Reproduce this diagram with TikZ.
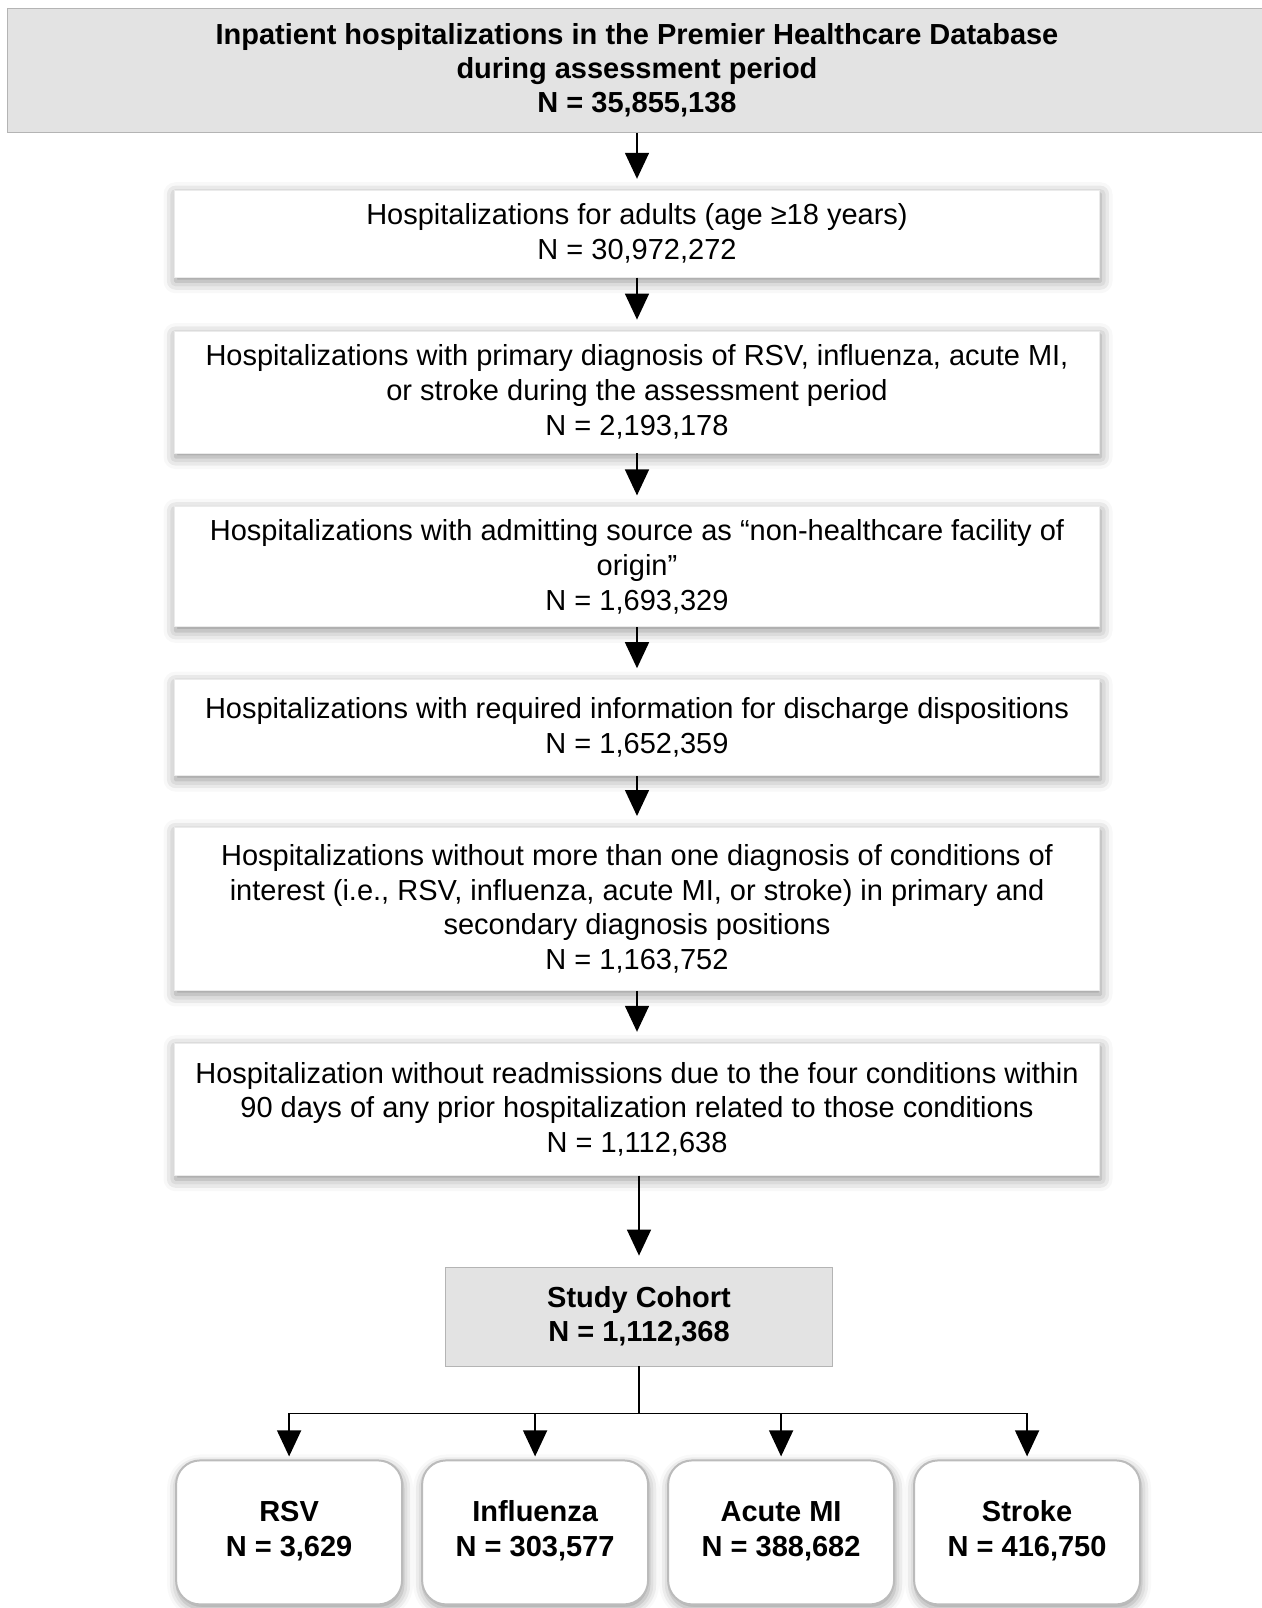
\documentclass[tikz,border=0pt]{standalone}
\usepackage{fontspec}
\setmainfont{Liberation Sans}
\usetikzlibrary{arrows.meta,positioning,shadows.blur}
\definecolor{headfill}{HTML}{E3E3E3}
\definecolor{headline}{HTML}{B4B4B4}
\definecolor{armline}{HTML}{BBBBBB}
\tikzset{
	headbox/.style={rectangle, draw=headline, fill=headfill, align=center,
		font=\fontsize{14.5}{17}\selectfont\bfseries, inner sep=0pt},
	stepbox/.style={rectangle, draw=black!8, fill=white, minimum width=462.5pt, align=center,
		font=\fontsize{14.5}{17.4}\selectfont, inner sep=0pt,
		blur shadow={shadow xshift=0.5pt, shadow yshift=-2pt, shadow blur radius=6pt, shadow opacity=45}},
	armbox/.style={rectangle, draw=armline, line width=1pt, fill=white, rounded corners=12pt,
		minimum width=113pt, minimum height=72pt, align=center,
		font=\fontsize{14.5}{17.5}\selectfont\bfseries, inner sep=0pt,
		blur shadow={shadow xshift=0.5pt, shadow yshift=-2pt, shadow blur radius=5pt, shadow opacity=40}},
	flowarr/.style={-{Triangle[width=12pt,length=13pt]}, line width=0.75pt}
}
\begin{document}
\begin{tikzpicture}
	\useasboundingbox (0,0) rectangle (631pt,-804pt);
	\node[headbox, anchor=north, minimum width=630pt, minimum height=62pt] (source) at (318.5pt,-4pt)
		{Inpatient hospitalizations in the Premier Healthcare Database\\during assessment period\\N = 35,855,138};
	\node[stepbox, below=28.5pt of source, minimum height=43.5pt] (adults)
		{Hospitalizations for adults (age ≥18 years)\\N = 30,972,272};
	\node[stepbox, below=26.5pt of adults, minimum height=61pt] (diag)
		{Hospitalizations with primary diagnosis of RSV, influenza, acute MI,\\or stroke during the assessment period\\N = 2,193,178};
	\node[stepbox, below=26.5pt of diag, minimum height=60pt] (admit)
		{Hospitalizations with admitting source as “non-healthcare facility of\\origin”\\N = 1,693,329};
	\node[stepbox, below=26pt of admit, minimum height=48pt] (dispo)
		{Hospitalizations with required information for discharge dispositions\\N = 1,652,359};
	\node[stepbox, below=25.5pt of dispo, minimum height=81.5pt] (single)
		{Hospitalizations without more than one diagnosis of conditions of\\interest (i.e., RSV, influenza, acute MI, or stroke) in primary and\\secondary diagnosis positions\\N = 1,163,752};
	\node[stepbox, below=26pt of single, minimum height=66pt] (readmit)
		{Hospitalization without readmissions due to the four conditions within\\90 days of any prior hospitalization related to those conditions\\N = 1,112,638};
	\node[headbox, below=45.5pt of readmit, xshift=1pt, minimum width=193.5pt, minimum height=49.5pt] (cohort)
		{Study Cohort\\N = 1,112,368};
	% outcome groups
	\coordinate (armsleft) at (cohort.south -| readmit.west);
	\node[armbox, below right=46.5pt and 0.5pt of armsleft] (rsv) {\strut RSV\\N = 3,629\strut};
	\node[armbox, right=9pt of rsv] (flu) {\strut Influenza\\N = 303,577\strut};
	\node[armbox, right=9pt of flu] (ami) {\strut Acute MI\\N = 388,682\strut};
	\node[armbox, right=9pt of ami] (stroke) {\strut Stroke\\N = 416,750\strut};
	\draw[flowarr, shorten >=5.5pt] (source) -- (adults);
	\draw[flowarr, shorten >=5.5pt] (adults) -- (diag);
	\draw[flowarr, shorten >=5.5pt] (diag) -- (admit);
	\draw[flowarr, shorten >=5.5pt] (admit) -- (dispo);
	\draw[flowarr, shorten >=5.5pt] (dispo) -- (single);
	\draw[flowarr, shorten >=5.5pt] (single) -- (readmit);
	\draw[flowarr, shorten >=5.5pt] (readmit.south -| cohort.north) -- (cohort.north);
	\coordinate[below=23.5pt of cohort.south] (bus);
	\draw[line width=0.75pt] (cohort.south) -- (bus);
	\draw[line width=0.75pt] (bus -| rsv.north) -- (bus -| stroke.north);
	\draw[flowarr, shorten >=1.5pt] (bus -| rsv.north) -- (rsv.north);
	\draw[flowarr, shorten >=1.5pt] (bus -| flu.north) -- (flu.north);
	\draw[flowarr, shorten >=1.5pt] (bus -| ami.north) -- (ami.north);
	\draw[flowarr, shorten >=1.5pt] (bus -| stroke.north) -- (stroke.north);
\end{tikzpicture}
\end{document}
